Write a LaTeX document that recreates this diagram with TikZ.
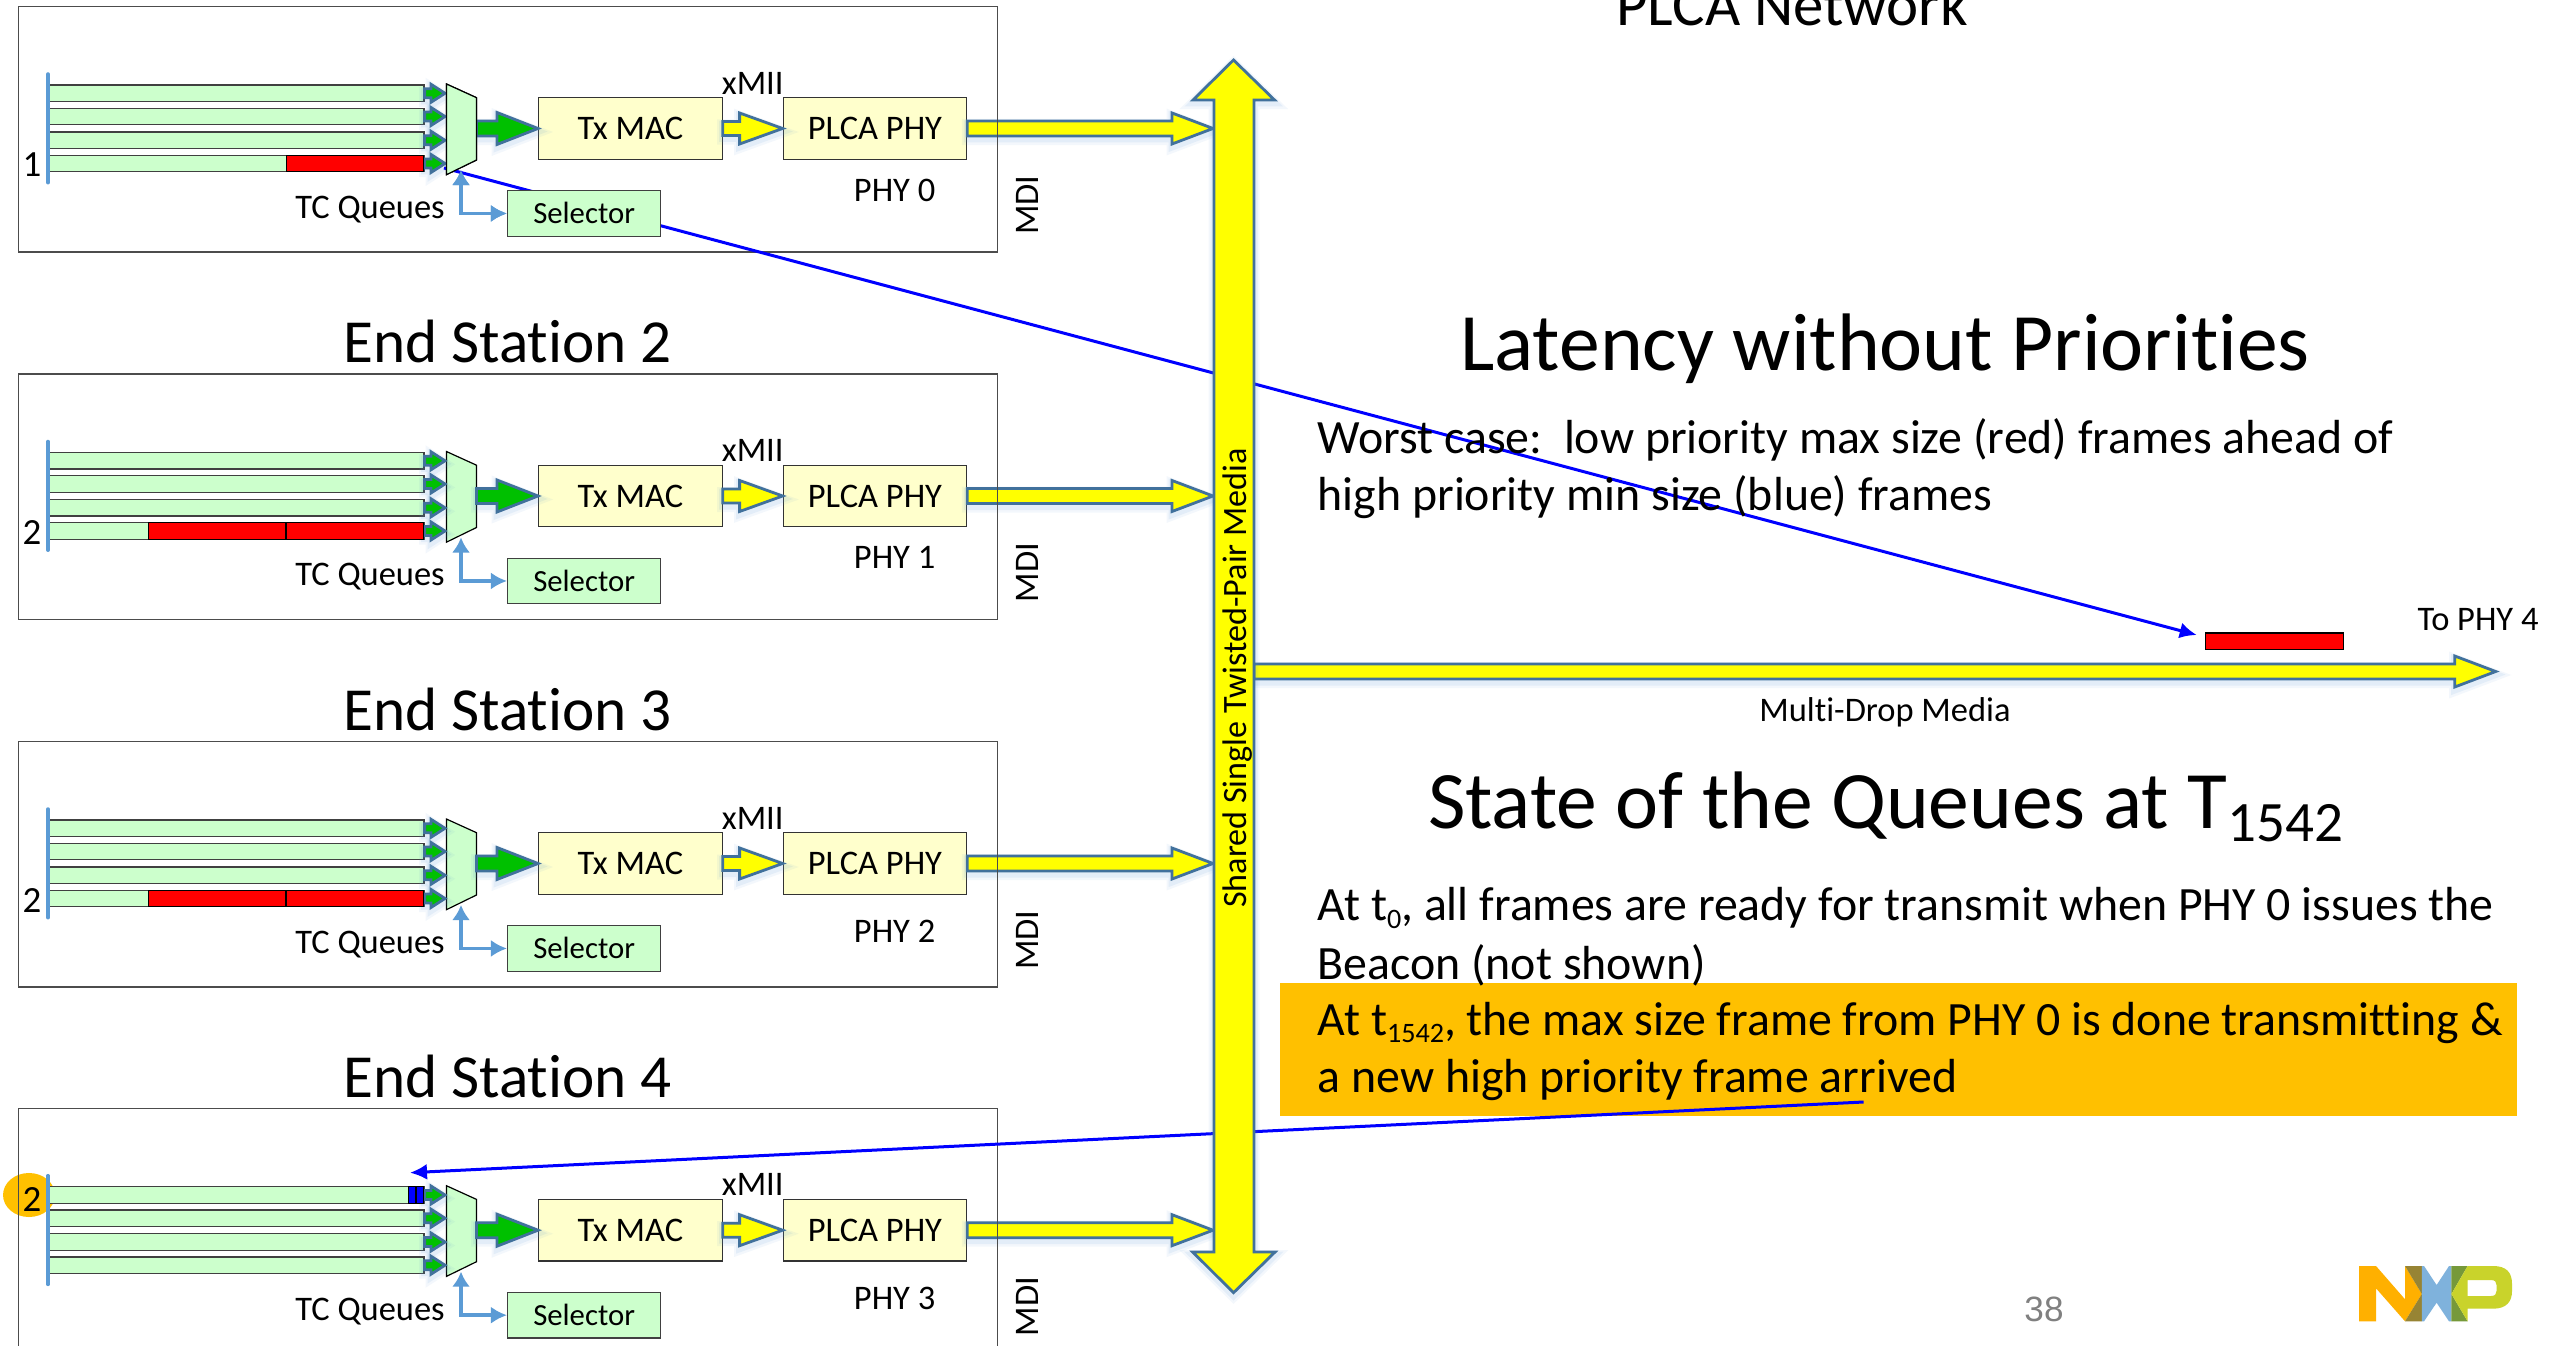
\documentclass[tikz,border=0pt]{standalone}
\usepackage{fontspec}
\setmainfont[Ligatures=NoCommon]{Carlito}
\newfontfamily\arialfont{Liberation Sans}
\usetikzlibrary{calc,arrows.meta}
\definecolor{qgreen}{HTML}{CCFFCC}
\definecolor{boxyellow}{HTML}{FFFFCC}
\definecolor{linkgreen}{HTML}{00C000}
\definecolor{edgeblue}{HTML}{41719C}
\definecolor{ctrlblue}{HTML}{5B9BD5}
\definecolor{frameblue}{HTML}{0000FF}
\definecolor{hilite}{HTML}{FFC000}
\definecolor{glowc}{HTML}{5B9BD5}
\definecolor{pureyellow}{HTML}{FFFF00}
\definecolor{purered}{HTML}{FF0000}
\newcommand{\lowsub}[1]{\raisebox{-.32ex}{\fontsize{8}{9}\selectfont #1}}
\tikzset{
  glow/.style={
    preaction={draw=glowc,draw opacity=.07,line width=.11cm,transform canvas={yshift=-.035cm}},
    preaction={draw=glowc,draw opacity=.10,line width=.07cm,transform canvas={yshift=-.03cm}}},
  yarrow/.style={fill=pureyellow,draw=edgeblue,line width=.028cm,line join=miter,glow},
  garrow/.style={fill=linkgreen,draw=edgeblue,line width=.028cm,line join=miter,glow},
  queue/.style={draw=black!75,line width=.014cm,fill=qgreen,inner sep=0pt,minimum width=3.74cm,minimum height=.165cm,anchor=west},
  redf/.style={draw=black,line width=.012cm,fill=purered,inner sep=0pt,minimum height=.165cm,anchor=west},
  bluef/.style={draw=black,line width=.012cm,fill=frameblue,inner sep=0pt,minimum height=.165cm,minimum width=.077cm,anchor=west},
  ybox/.style={draw=black!80,line width=.012cm,fill=boxyellow,inner sep=0pt,minimum height=.616cm,font=\fontsize{9.8}{12}\selectfont},
  selbox/.style={draw=black!75,line width=.012cm,fill=qgreen,inner sep=0pt,minimum width=1.53cm,minimum height=.457cm,font=\fontsize{8.75}{11}\selectfont},
  stationbox/.style={draw=black!70,line width=.014cm,inner sep=0pt,minimum width=9.785cm,minimum height=2.45cm,anchor=north west},
  muxshape/.style={draw=black,line width=.012cm,fill=qgreen},
  selarrow/.style={draw=ctrlblue,line width=.034cm,{Latex[length=.15cm,width=.18cm]}-{Latex[length=.16cm,width=.17cm]}},
  busbar/.style={draw=ctrlblue,line width=.035cm,line cap=round},
  frameline/.style={draw=frameblue,line width=.03cm,-{Latex[length=.17cm,width=.16cm]}},
  lbl/.style={font=\fontsize{9.8}{12}\selectfont,inner sep=0pt},
  stationtitle/.style={font=\fontsize{17.4}{21}\selectfont,inner sep=0pt},
  bigtitle/.style={font=\fontsize{23.2}{28}\selectfont,inner sep=0pt},
  bodytxt/.style={font=\fontsize{13.6}{16}\selectfont,inner sep=0pt,anchor=west},
}
% style, start, end, head length, tail half height, head half height
\newcommand{\blockarrow}[6]{%
  \draw[#1] ($(#2)+(0,-#5)$) -- ($(#3)+(-#4,-#5)$) -- ($(#3)+(-#4,-#6)$) -- (#3)
    -- ($(#3)+(-#4,#6)$) -- ($(#3)+(-#4,#5)$) -- ($(#2)+(0,#5)$) -- cycle;}
% prefix, y offset, queue label, label y, phy name, phy label y
\newcommand{\stationrow}[6]{%
  \begin{scope}[shift={(0,#2)}]
    \node[queue] (#1q1) at (49,93.3) {};
    \node[queue] (#1q2) at (49,116.5) {};
    \node[queue] (#1q3) at (49,140.3) {};
    \node[queue] (#1q4) at (49,163.5) {};
    \draw[busbar] (48,74) coordinate (#1bt) -- (48,182.7) coordinate (#1bb);
    \node[lbl,font=\fontsize{10.5}{12}\selectfont] (#1n) at (32,#4) {#3};
    \draw[muxshape] (446.4,84) coordinate (#1m1) -- (476.5,97.7) -- (476.5,160) -- (446.4,174.7) -- cycle;
    \coordinate (#1a1) at (445,93.3);
    \coordinate (#1a2) at (445,116.5);
    \coordinate (#1a3) at (445,140.3);
    \coordinate (#1a4) at (445,163.5);
    \coordinate (#1mo) at (476.5,128.5);
    \coordinate (#1ms) at (461,170);
    \node[ybox,minimum width=1.834cm,anchor=west] (#1mac) at (538,128.5) {Tx MAC};
    \node[ybox,minimum width=1.834cm,anchor=west] (#1phy) at (782.6,128.5) {PLCA PHY};
    \node[selbox,anchor=north west] (#1sel) at (507,190) {\raisebox{.012cm}{Selector}};
    \node[lbl] (#1tc) at (370,209.5) {TC Queues};
    \node[lbl] (#1xm) at (752.7,83) {xMII};
    \node[lbl] (#1pn) at (894.6,#6) {#5};
    \node[lbl,rotate=90] (#1md) at (1027,205) {MDI};
    \coordinate (#1bus) at (1213,128.5);
    \blockarrow{garrow}{#1q1.east}{#1a1}{14}{4.5}{9}
    \blockarrow{garrow}{#1q2.east}{#1a2}{14}{4.5}{9}
    \blockarrow{garrow}{#1q3.east}{#1a3}{14}{4.5}{9}
    \blockarrow{garrow}{#1q4.east}{#1a4}{14}{4.5}{9}
    \blockarrow{garrow}{#1mo}{#1mac.west}{41}{7.5}{16}
    \blockarrow{yarrow}{#1mac.east}{#1phy.west}{43}{7}{15.5}
    \blockarrow{yarrow}{#1phy.east}{#1bus}{41}{7.5}{15.5}
    \draw[selarrow] (#1ms) |- (#1sel.west);
    \node[stationbox] (#1box) at (18,6) {};
  \end{scope}}
\begin{document}
\begin{tikzpicture}[x=.01cm,y=-.01cm]
\useasboundingbox (0,0) rectangle (2552,1346);
\fill[white] (0,0) rectangle (2552,1346);
% highlight behind text
\node[fill=hilite,inner sep=0pt,minimum width=12.37cm,minimum height=1.33cm,anchor=north west] (hl) at (1279,982) {};
\node[fill=hilite,inner sep=0pt,circle,minimum size=.44cm,xscale=1.18] (dot) at (29,1195) {};

\stationrow{a}{0}{1}{165}{PHY 0}{190}
\stationrow{b}{367.5}{2}{165.5}{PHY 1}{190}
\stationrow{c}{735}{2}{165.5}{PHY 2}{196}
\stationrow{d}{1101.7}{2}{98}{PHY 3}{197}

% queued frames
\node[redf,minimum width=1.373cm] (af1) at (285.7,163.5) {};
\node[redf,minimum width=1.373cm] (bf1) at (148,531) {};
\node[redf,minimum width=1.373cm] (bf2) at (285.7,531) {};
\node[redf,minimum width=1.373cm] (cf1) at (148,898.5) {};
\node[redf,minimum width=1.373cm] (cf2) at (285.7,898.5) {};
\node[bluef] (df1) at (407.7,1195) {};
\node[bluef] (df2) at (415.4,1195) {};

% media bus
\coordinate (mdstart) at (1254,671.5);
\coordinate (mdtip) at (2495.7,671.5);
\blockarrow{yarrow}{mdstart}{mdtip}{41}{7.5}{15.5}
\node[draw=black,line width=.012cm,fill=purered,inner sep=0pt,minimum width=1.38cm,minimum height=.167cm,anchor=north west] (wire) at (2204.7,632.3) {};

% frame paths
\coordinate (fa) at (444,168);
\coordinate (fat) at (2196.7,635);
\coordinate (fb) at (1863.6,1102);
\coordinate (fbt) at (410,1172.7);
\draw[frameline] (fa) -- (fat);
\draw[frameline] (fb) -- (fbt);

% redraw what lies in front of the first frame path
\draw[muxshape] (446.4,84) -- (476.5,97.7) -- (476.5,160) -- (446.4,174.7) -- cycle;
\node[selbox,anchor=north west] (aselfront) at (507,190) {\raisebox{.012cm}{Selector}};
\draw[selarrow] (461,170) |- (aselfront.west);

% shared media double arrow
\draw[yarrow] (1214,100) -- (1193,100) -- (1233.5,60) -- (1274.5,100) -- (1254,100)
  -- (1254,1252) -- (1275,1252) -- (1233.5,1292.7) -- (1192.7,1252) -- (1214,1252) -- cycle;
\node[inner sep=0pt,rotate=90,font=\fontsize{9.7}{12}\selectfont] (shared) at (1238,678) {Shared Single Twisted-Pair Media};

% text
\node[inner sep=0pt,font=\fontsize{17.3}{21}\selectfont] (plcanet) at (1792,5) {PLCA Network};
\node[stationtitle] (st2) at (507.5,341.5) {End Station 2};
\node[stationtitle] (st3) at (507.5,709.5) {End Station 3};
\node[stationtitle] (st4) at (507.5,1076.5) {End Station 4};
\node[bigtitle] (t1) at (1885,349) {Latency without Priorities};
\node[bodytxt] (w1) at (1317,440) {Worst case:\ \ low priority max size (red) frames ahead of};
\node[bodytxt] (w2) at (1317,497) {high priority min size (blue) frames};
\node[lbl] (toph) at (2478,619.5) {To PHY 4};
\node[lbl] (mdm) at (1885,712.5) {Multi-Drop Media};
\node[bigtitle] (t2) at (1886.5,807) {State of the Queues at T\textsubscript{1542}};
\node[bodytxt] (s1) at (1317,908) {At t\lowsub{0}, all frames are ready for transmit when PHY 0 issues the};
\node[bodytxt] (s2) at (1317,965) {Beacon (not shown)};
\node[bodytxt] (s3) at (1317,1023) {At t\lowsub{1542}, the max size frame from PHY 0 is done transmitting \&};
\node[bodytxt] (s4) at (1317,1080) {a new high priority frame arrived};
\node[inner sep=0pt,text=black!50,font=\arialfont\fontsize{10}{12}\selectfont] (page) at (2044,1309) {38};

% NXP logo
\fill[fill={rgb,255:red,255;green,176;blue,0}] (2359.2,1266) -- (2376,1266) -- (2405,1299.3) -- (2405,1266) -- (2421.8,1294) -- (2405,1321.3) -- (2376,1288.3) -- (2376,1321.3) -- (2359.2,1321.3) -- cycle;
\fill[fill={rgb,255:red,151;green,132;blue,52}] (2405,1266) -- (2421.8,1266) -- (2421.8,1294) -- cycle (2421.8,1294) -- (2421.8,1321.3) -- (2405,1321.3) -- cycle;
\fill[fill={rgb,255:red,127;green,178;blue,220}] (2421.8,1266) -- (2424,1266) -- (2436.6,1285) -- (2449,1266) -- (2451.4,1266) -- (2451.4,1321.3) -- (2449,1321.3) -- (2436.6,1302.7) -- (2424,1321.3) -- (2421.8,1321.3) -- cycle;
\fill[fill={rgb,255:red,118;green,153;blue,58}] (2451.4,1266) -- (2467.6,1266) -- (2451.4,1294) -- cycle (2451.4,1294) -- (2467.6,1321.3) -- (2451.4,1321.3) -- cycle;
\fill[fill={rgb,255:red,201;green,211;blue,43},even odd rule] (2467.6,1266) -- (2493,1266) .. controls (2506,1266) and (2512,1272) .. (2512,1284) -- (2512,1291) .. controls (2512,1302) and (2506,1308.7) .. (2493,1308.7) -- (2467.6,1308.7) -- (2467.6,1321.3) -- (2451.4,1294) -- cycle
  (2467.6,1280) -- (2467.6,1296) -- (2491,1296) .. controls (2495,1296) and (2496.5,1294) .. (2496.5,1291) -- (2496.5,1285) .. controls (2496.5,1282) and (2495,1280) .. (2491,1280) -- cycle;
\end{tikzpicture}
\end{document}
